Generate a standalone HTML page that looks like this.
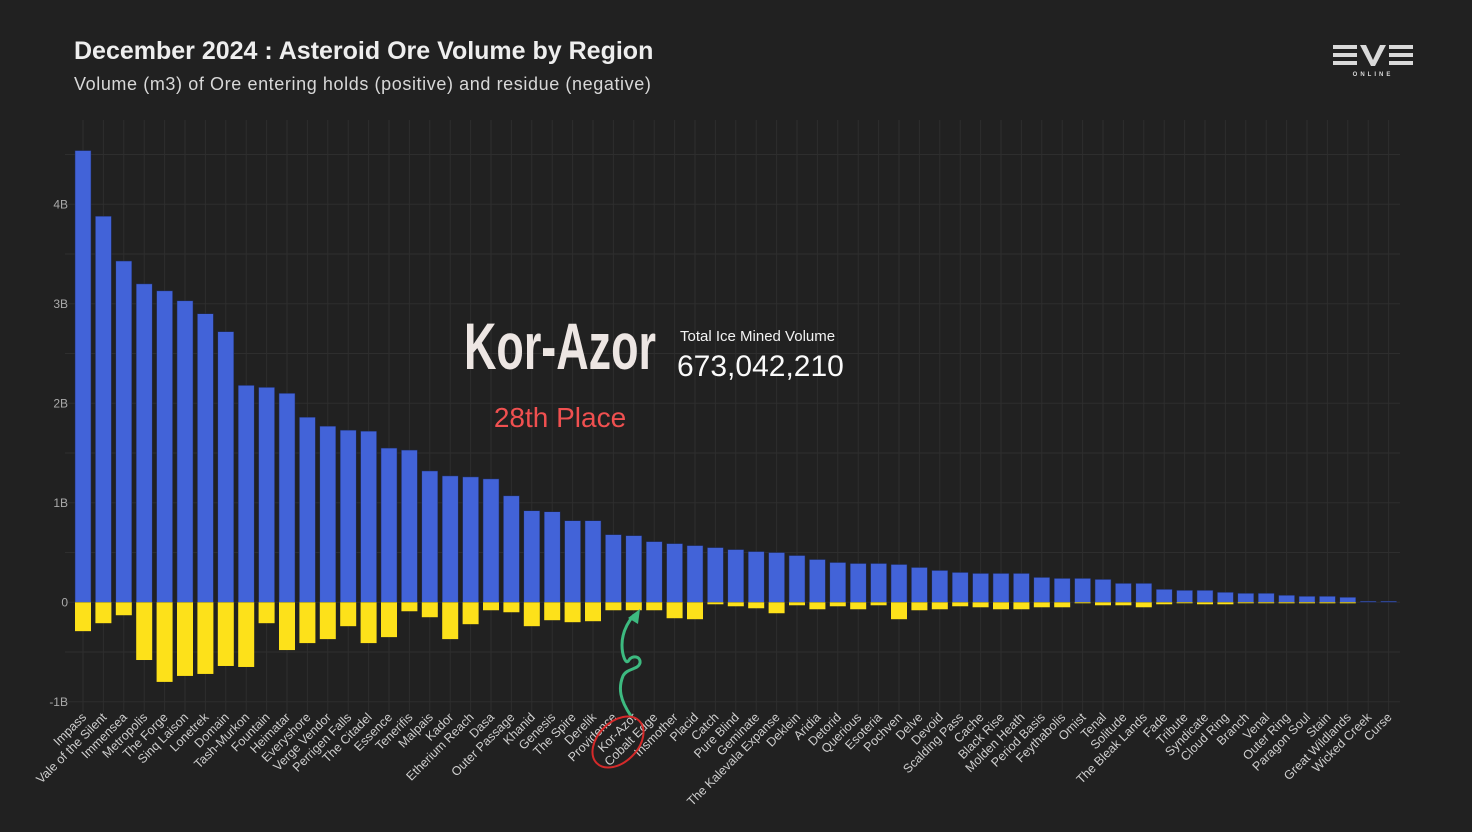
<!DOCTYPE html>
<html><head><meta charset="utf-8"><style>
html,body{margin:0;padding:0;background:#212121;}
body{width:1472px;height:832px;overflow:hidden;position:relative;font-family:"Liberation Sans",sans-serif;}
#title{position:absolute;left:74px;top:37px;font-size:25px;font-weight:bold;color:#eee;letter-spacing:0px;}
#subtitle{position:absolute;left:74px;top:74px;font-size:18px;color:#d8d8d8;letter-spacing:0.6px;}
</style></head><body>
<div id="title">December 2024 : Asteroid Ore Volume by Region</div>
<div id="subtitle">Volume (m3) of Ore entering holds (positive) and residue (negative)</div>
<svg id="chart" width="1472" height="832" style="position:absolute;left:0;top:0">
<g id="grid"></g><g id="bars"></g><g id="labels"></g>
<g fill="#d9d9d9">
<rect x="1333" y="45" width="24" height="4"/><rect x="1333" y="53" width="24" height="4"/><rect x="1333" y="61" width="24" height="4"/>
<polygon points="1360,45 1366,45 1373,60 1380,45 1386,45 1375,66 1371,66"/>
<rect x="1389" y="45" width="24" height="4"/><rect x="1389" y="53" width="24" height="4"/><rect x="1389" y="61" width="24" height="4"/>
<text x="1373" y="76" font-size="6" text-anchor="middle" letter-spacing="3" font-weight="bold">ONLINE</text>
</g>
<text x="560" y="369" font-size="66" font-weight="bold" fill="#ede6e3" text-anchor="middle" transform="translate(560,0) scale(0.68,1) translate(-560,0)" font-family="Liberation Sans Narrow, Liberation Sans, sans-serif">Kor-Azor</text>
<text x="560" y="427" font-size="28" fill="#f05050" text-anchor="middle">28th Place</text>
<text x="680" y="341" font-size="15" fill="#f2f2f2">Total Ice Mined Volume</text>
<text x="677" y="376" font-size="30" fill="#fafafa">673,042,210</text>
<path d="M631,716 C620,700 618,688 623,676 C627,668 638,670 640,663 C641,656 632,655 629,660 C626,666 622,655 622,645 C622,632 628,622 634,615" fill="none" stroke="#3dba80" stroke-width="3"/>
<polygon points="640,609 628,618 638,624" fill="#3dba80"/>
<ellipse cx="618" cy="742" rx="20" ry="30" transform="rotate(45 618 742)" fill="none" stroke="#d42a2a" stroke-width="2"/>
</svg>
<script>
const regions=["Impass","Vale of the Silent","Immensea","Metropolis","The Forge","Sinq Laison","Lonetrek","Domain","Tash-Murkon","Fountain","Heimatar","Everyshore","Verge Vendor","Perrigen Falls","The Citadel","Essence","Tenerifis","Malpais","Kador","Etherium Reach","Dasa","Outer Passage","Khanid","Genesis","The Spire","Derelik","Providence","Kor-Azor","Cobalt Edge","Insmother","Placid","Catch","Pure Blind","Geminate","The Kalevala Expanse","Deklein","Aridia","Detorid","Querious","Esoteria","Pochven","Delve","Devoid","Scalding Pass","Cache","Black Rise","Molden Heath","Period Basis","Feythabolis","Omist","Tenal","Solitude","The Bleak Lands","Fade","Tribute","Syndicate","Cloud Ring","Branch","Venal","Outer Ring","Paragon Soul","Stain","Great Wildlands","Wicked Creek","Curse"];
const oreVolume=[4.54,3.88,3.43,3.20,3.13,3.03,2.90,2.72,2.18,2.16,2.10,1.86,1.77,1.73,1.72,1.55,1.53,1.32,1.27,1.26,1.24,1.07,0.92,0.91,0.82,0.82,0.68,0.67,0.61,0.59,0.57,0.55,0.53,0.51,0.50,0.47,0.43,0.40,0.39,0.39,0.38,0.35,0.32,0.30,0.29,0.29,0.29,0.25,0.24,0.24,0.23,0.19,0.19,0.13,0.12,0.12,0.10,0.09,0.09,0.07,0.06,0.06,0.05,0.01,0.01];
const residue=[-0.29,-0.21,-0.13,-0.58,-0.80,-0.74,-0.72,-0.64,-0.65,-0.21,-0.48,-0.41,-0.37,-0.24,-0.41,-0.35,-0.09,-0.15,-0.37,-0.22,-0.08,-0.10,-0.24,-0.18,-0.20,-0.19,-0.08,-0.08,-0.08,-0.16,-0.17,-0.02,-0.04,-0.06,-0.11,-0.03,-0.07,-0.04,-0.07,-0.03,-0.17,-0.08,-0.07,-0.04,-0.05,-0.07,-0.07,-0.05,-0.05,-0.01,-0.03,-0.03,-0.05,-0.02,-0.01,-0.02,-0.02,-0.01,-0.01,-0.01,-0.01,-0.01,-0.01,0,0];
const yTicks=[-1,0,1,2,3,4];
const yTickLabels=["-1B","0","1B","2B","3B","4B"];
const NS="http://www.w3.org/2000/svg";
const x0=83,step=20.4,barW=16;
function xScale(i){return x0+i*step;}
function yScale(v){return 602.3-v*99.5;}
function mk(tag,attrs,parent){const e=document.createElementNS(NS,tag);for(const k in attrs)e.setAttribute(k,attrs[k]);parent.appendChild(e);return e;}
const grid=document.getElementById('grid'),bars=document.getElementById('bars'),labels=document.getElementById('labels');
for(let i=0;i<regions.length;i++){
  const l=mk('line',{x1:xScale(i),x2:xScale(i),y1:120,y2:712,stroke:'#2e2e2e','stroke-width':1},grid);
  
  
}
for(let v=-1;v<=4.5;v+=0.5){
  const l=mk('line',{x1:65,x2:1400,y1:yScale(v),y2:yScale(v),stroke:'#2e2e2e','stroke-width':1},grid);
  
  
}
yTicks.forEach((t,k)=>{
  const tx=mk('text',{x:68,y:yScale(t)+4,'font-size':12,fill:'#aaa','text-anchor':'end'},labels);
  tx.textContent=yTickLabels[k];
  
  
});
regions.forEach((r,i)=>{
  const x=xScale(i)-barW/2;
  const y1=yScale(oreVolume[i]),y0=yScale(0),y2=yScale(residue[i]);
  const b=mk('rect',{x:x,y:y1,width:barW,height:Math.max(0.5,y0-y1),fill:'#4263d8',stroke:'#1e2a55','stroke-width':0.5},bars);
  
  
  const n=mk('rect',{x:x,y:y0,width:barW,height:Math.max(0,y2-y0),fill:'#fde11a'},bars);
  
  
  const cx=xScale(i)+4,cy=718;
  const t=mk('text',{x:cx,y:cy,'font-size':12.5,fill:'#cfcfcf','text-anchor':'end',transform:`rotate(-45 ${cx} ${cy})`},labels);
  t.textContent=r;
  
  
});
</script>
</body></html>
